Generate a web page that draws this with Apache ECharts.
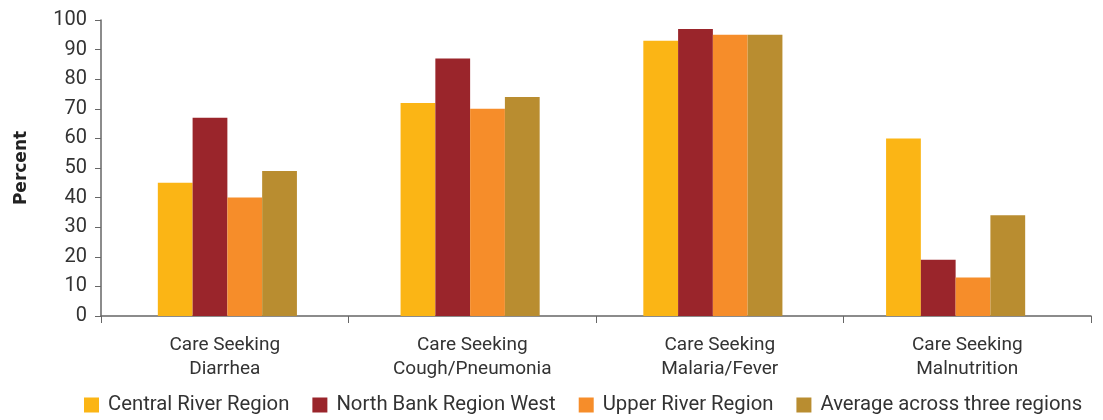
<!DOCTYPE html>
<html><head><meta charset="utf-8">
<script src="https://cdn.jsdelivr.net/npm/echarts@6/dist/echarts.min.js"></script>
<style>html,body{margin:0;padding:0;background:#fff}#c{width:1103px;height:420px}</style>
</head><body><div id="c"></div>
<script>
const categories = ["Care Seeking\nDiarrhea","Care Seeking\nCough/Pneumonia","Care Seeking\nMalaria/Fever","Care Seeking\nMalnutrition"];
const seriesNames = ["Central River Region","North Bank Region West","Upper River Region","Average across three regions"];
const centralRiver = [45, 72, 93, 60];
const northBankWest = [67, 87, 97, 19];
const upperRiver = [40, 70, 95, 13];
const averageThree = [49, 74, 95, 34];
const yTicks = [0,10,20,30,40,50,60,70,80,90,100];
const colors = ["#FBB515","#9A252B","#F68D2A","#B98D30"];
const values = [centralRiver, northBankWest, upperRiver, averageThree];
const font = "Roboto, sans-serif";
const yMin = yTicks[0], yMax = yTicks[yTicks.length-1];
const chart = echarts.init(document.getElementById('c'));
chart.setOption({
  animation:false,
  textStyle:{fontFamily:font},
  grid:[{left:101,right:12,top:20,bottom:104},{left:106,right:26,top:20,bottom:104}],
  legend:{top:395,left:84,itemWidth:15,itemHeight:15,itemGap:23,icon:'rect',padding:0,
    textStyle:{fontSize:20.3,color:'#333',fontFamily:font,padding:[0,0,0,4]}, data:seriesNames},
  xAxis:[{type:'category',data:categories,gridIndex:0,
    axisLine:{lineStyle:{color:'#666',width:1.5}},
    axisTick:{show:true,length:7,lineStyle:{color:'#666'}},
    axisLabel:{fontSize:19,color:'#333',lineHeight:24,margin:17,fontFamily:font}},
    {type:'category',data:categories,gridIndex:1,show:false}],
  yAxis:[{type:'value',min:yMin,max:yMax,interval:10,gridIndex:0,
    name:'Percent',nameLocation:'middle',nameGap:71,nameRotate:90,
    nameTextStyle:{fontSize:17,fontWeight:'bold',color:'#222',fontFamily:'DejaVu Sans'},
    axisLine:{show:true,lineStyle:{color:'#666',width:1.5}},
    axisTick:{show:true,length:6,lineStyle:{color:'#666'}},
    splitLine:{show:false},
    axisLabel:{fontSize:20,color:'#333',margin:14,fontFamily:font}},
    {type:'value',min:yMin,max:yMax,gridIndex:1,show:false,splitLine:{show:false}}],
  series: seriesNames.map((n,i)=>({name:n,type:'bar',data:values[i],xAxisIndex:1,yAxisIndex:1,
    barGap:'0%',barCategoryGap:'42.7%',z:1,itemStyle:{color:colors[i]}}))
});
</script></body></html>
